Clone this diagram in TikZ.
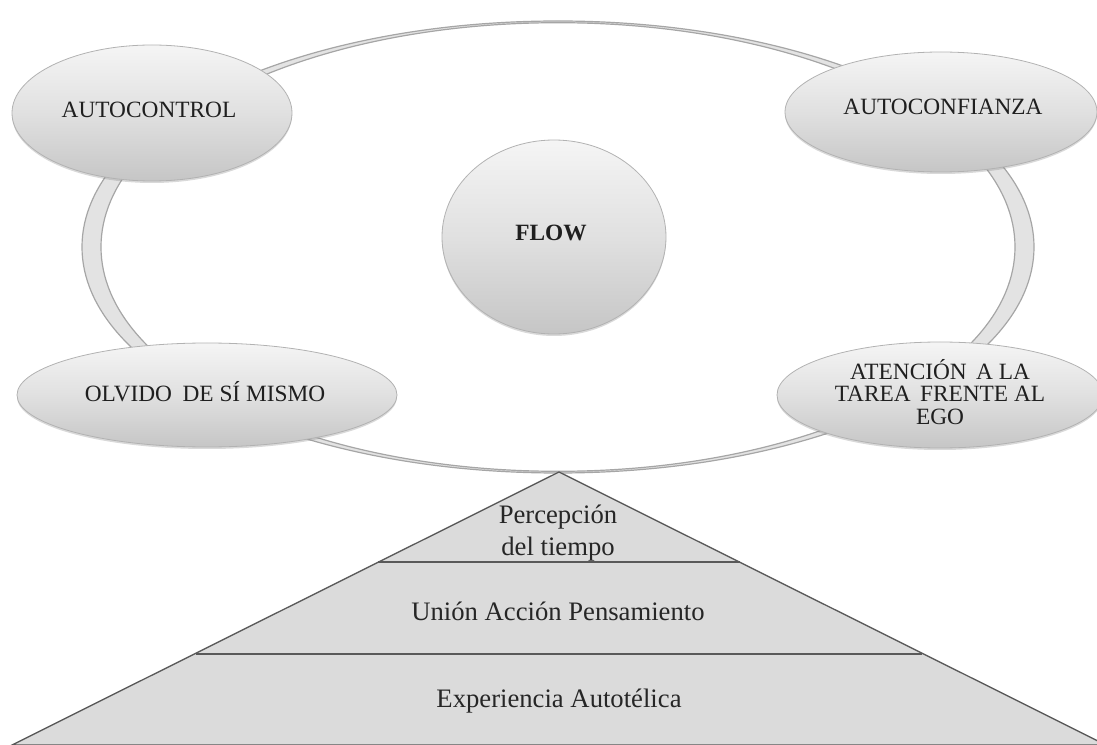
\documentclass[tikz,border=0pt]{standalone}
\usepackage{fontspec}
\setmainfont{Liberation Serif}
\usetikzlibrary{shapes.geometric,shadows}
\begin{document}
\begin{tikzpicture}[x=0.75pt,y=-0.75pt,
  bubble/.style={ellipse, inner sep=0pt, draw=gray!60, line width=0.6pt,
    top color=gray!8, bottom color=gray!45, middle color=gray!24,
    drop shadow={shadow xshift=0pt, shadow yshift=-1.5pt, opacity=0.3}},
  btext/.style={text=black!88, font=\fontsize{17.5}{17}\selectfont, align=center},
  layer/.style={text=black!85, font=\fontsize{20}{24.5}\selectfont, align=center, inner sep=0pt},
  pyr/.style={fill=gray!28, draw=black!65, line width=1pt}
]
\useasboundingbox (0,0) rectangle (1097,745);
\clip (0,0) rectangle (1097,745);

% ring joining the outer bubbles
\path[fill=gray!22, draw=gray!70, line width=0.9pt, even odd rule]
  (558,247) ellipse [x radius=476, y radius=226]
  (558,247) ellipse [x radius=457, y radius=224.3];

% bubbles on the ring
\node[bubble, minimum width=280*0.75pt, minimum height=136*0.75pt] (ac) at (152,113) {};
\node[btext] (actx) at (149,110) {AUTOCONTROL};
\node[bubble, minimum width=312*0.75pt, minimum height=120*0.75pt] (conf) at (941,112) {};
\node[btext] (conftx) at (943,107) {AUTOCONFIANZA};
\node[bubble, minimum width=380*0.75pt, minimum height=104*0.75pt] (olv) at (207,395) {};
\node[btext] (olvtx) at (205,392) {OLVIDO\hspace{0.45em}DE SÍ MISMO};
\node[bubble, minimum width=326*0.75pt, minimum height=106*0.75pt] (ate) at (940,395) {};
\node[btext] (atetx) at (940,392)
  {ATENCIÓN\hspace{0.4em}A LA\\TAREA\hspace{0.4em}FRENTE AL\\EGO};

% centre bubble
\node[bubble, minimum width=224*0.75pt, minimum height=194*0.75pt] (flow) at (554,237) {};
\node[btext, font=\fontsize{17.5}{17.5}\selectfont\bfseries] (flowtx) at (551,233) {FLOW};

% pyramid of layers below the ring
\coordinate (apex) at (559,472);
\coordinate (l1) at (378,562);
\coordinate (r1) at (740,562);
\coordinate (l2) at (196,654);
\coordinate (r2) at (922,654);
\coordinate (bl) at (12,745);
\coordinate (br) at (1106,745);
\draw[pyr] (apex) -- (br) -- (bl) -- cycle;
\draw[draw=black!65, line width=1pt] (l1) -- (r1);
\draw[draw=black!65, line width=1pt] (l2) -- (r2);

\node[layer] (p1) at (558,533) {Percepción\\del tiempo};
\node[layer] (p2) at (558,611) {Unión Acción Pensamiento};
\node[layer] (p3) at (559,701) {Experiencia Autotélica};
\end{tikzpicture}
\end{document}
